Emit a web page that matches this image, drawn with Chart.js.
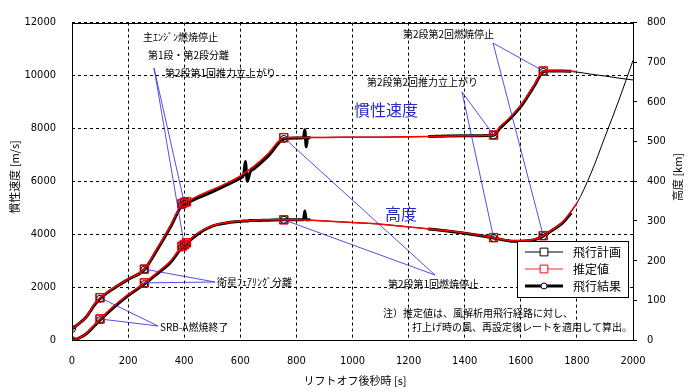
<!DOCTYPE html>
<html>
<head>
<meta charset="utf-8">
<script src="https://cdn.jsdelivr.net/npm/chart.js@4.4.0/dist/chart.umd.min.js"></script>
<style>
  html, body { margin: 0; padding: 0; background: #fff; }
  canvas { display: block; }
</style>
</head>
<body>
<canvas id="chart" width="690" height="392"></canvas>
<script>
/* 飛行計画 / 推定値 / 飛行結果 — velocity & altitude vs time */

// time after liftoff [s], shared by plan and estimate
const timeSec = [0, 25, 50, 80, 100, 125, 150, 200, 258, 300, 350, 392, 400, 408, 450, 500, 550, 600, 650, 700,
  755, 800, 900, 1000, 1100, 1200, 1300, 1400, 1503, 1525, 1550, 1575, 1600, 1625, 1650, 1680, 1700, 1750, 1800,
  1850, 1900, 1950, 2000];

// 飛行計画 (plan)
const planVel = [420, 620, 850, 1370, 1600, 1800, 1980, 2300, 2680, 3400, 4300, 5150, 5200, 5230, 5450, 5680, 5920, 6200, 6580, 7050,
  7650, 7660, 7660, 7670, 7670, 7680, 7700, 7720, 7750, 8050, 8300, 8570, 8880, 9260, 9680, 10170, 10180, 10170, 10130,
  10050, 9980, 9900, 9830];
const planAlt = [0, 5, 16, 38, 53, 70, 86, 114, 144, 168, 198, 236, 240, 245, 270, 288, 296, 300, 302, 303,
  303, 303, 300, 296, 292, 285, 278, 270, 258, 255, 252, 250, 250, 251, 254, 263, 272, 298, 345,
  420, 512, 605, 705];

// 推定値 (estimate), ends at 1800 s
const estVel = [420, 620, 850, 1370, 1600, 1800, 1980, 2300, 2680, 3400, 4300, 5150, 5200, 5230, 5450, 5680, 5920, 6200, 6580, 7050,
  7650, 7660, 7660, 7670, 7670, 7680, 7700, 7720, 7750, 8050, 8300, 8570, 8880, 9260, 9680, 10170, 10180, 10170, 10150];
const estAlt = [0, 5, 16, 38, 53, 70, 86, 114, 144, 168, 198, 236, 240, 245, 270, 288, 296, 300, 302, 303,
  303, 303, 300, 296, 292, 285, 278, 270, 258, 255, 252, 250, 250, 251, 254, 263, 272, 298, 345];

// 飛行結果 (flight result), gap in telemetry between ~850 s and ~1270 s
const resultTime = [0, 25, 50, 80, 100, 125, 150, 200, 258, 300, 350, 392, 400, 408, 450, 500, 550, 600, 612, 618, 625, 635, 650, 700,
  755, 800, 825, 830, 835, 840, 850, 1000, 1270, 1300, 1400, 1503, 1525, 1550, 1575, 1600, 1625, 1650, 1680, 1700, 1750, 1780];
const resultVel = [420, 620, 860, 1320, 1560, 1780, 1960, 2290, 2660, 3350, 4250, 5100, 5150, 5170, 5380, 5600, 5850, 6120, 6250, 6750, 6000, 6350, 6480, 6960,
  7600, 7640, 7650, 7950, 7300, 7650, 7650, null, 7690, 7700, 7720, 7740, 8000, 8250, 8520, 8830, 9220, 9640, 10140, 10170, 10170, 10160];
const resultAlt = [0, 5, 15, 36, 50, 67, 83, 112, 141, 165, 195, 233, 238, 243, 268, 287, 295, 299, 300, 300, 300, 301, 301, 302,
  303, 303, 303, 325, 303, 303, 303, null, 280, 278, 269, 257, 254, 251, 249, 249, 250, 253, 262, 271, 296, 320];

// event times carrying markers
const eventTimes = [100, 258, 392, 400, 408, 755, 1503, 1680];
const resultEventTimes = [0, 100, 258, 392, 400, 408, 755, 1503, 1680];

const xTicks = [0, 200, 400, 600, 800, 1000, 1200, 1400, 1600, 1800, 2000];

const JP = '"Noto Sans CJK JP", sans-serif';
const NUM = '"Liberation Sans Narrow", "DejaVu Sans Condensed", "Roboto", sans-serif';

function pts(xs, ys) {
  return ys.map((y, i) => ({ x: xs[i], y }));
}

function markerRadius(times, r) {
  return ctx => (ctx.raw && times.includes(ctx.raw.x)) ? r : 0;
}

function lineSet(data, axis, color, width, order, style, times, r) {
  return {
    data, yAxisID: axis, order,
    borderColor: color, borderWidth: width,
    pointStyle: style, pointRadius: markerRadius(times, r),
    pointBorderColor: color, pointBackgroundColor: 'rgba(0,0,0,0)', pointBorderWidth: 1,
    pointHoverRadius: 0,
    cubicInterpolationMode: 'monotone', spanGaps: false, fill: false
  };
}

// leaders: from a label point to the estimate value at an event time
function valueAt(arr, t) { return arr[timeSec.indexOf(t)]; }

const annotations = {
  id: 'annotations',
  afterDatasetsDraw(chart) {
    const { ctx, scales: { x, y, y2 } } = chart;
    const leaders = [
      [154, 68, 400], [493, 43, 1680], [462, 92, 1503],
      [435, 275, 755], [215, 282, 258], [158, 326, 100]
    ];
    ctx.save();
    ctx.strokeStyle = 'rgba(50,50,220,0.85)';
    ctx.lineWidth = 1;
    leaders.forEach(([lx, ly, t]) => {
      [[y, valueAt(estVel, t)], [y2, valueAt(estAlt, t)]].forEach(([sc, v]) => {
        ctx.beginPath();
        ctx.moveTo(lx, ly);
        ctx.lineTo(x.getPixelForValue(t), sc.getPixelForValue(v));
        ctx.stroke();
      });
    });

    ctx.fillStyle = '#000';
    ctx.font = '10px ' + JP;
    ctx.textBaseline = 'middle';
    ctx.textAlign = 'left';
    [
      ['主ｴﾝｼﾞﾝ燃焼停止', 143, 37],
      ['第1段・第2段分離', 148, 55],
      ['第2段第1回推力立上がり', 165, 73],
      ['第2段第2回燃焼停止', 403, 34],
      ['第2段第2回推力立上がり', 367, 82],
      ['第2段第1回燃焼停止', 388, 284],
      ['衛星ﾌｪｱﾘﾝｸﾞ分離', 217, 282],
      ['SRB-A燃焼終了', 160, 327],
      ['注）推定値は、風解析用飛行経路に対し、', 383, 313],
      ['打上げ時の風、再設定後レートを適用して算出。', 412, 327]
    ].forEach(([s, tx, ty]) => ctx.fillText(s, tx, ty));

    ctx.fillStyle = '#2a2ac8';
    ctx.font = '16px ' + JP;
    ctx.textAlign = 'center';
    ctx.fillText('慣性速度', 386, 110);
    ctx.fillText('高度', 401, 214);

    // plot frame
    const a = chart.chartArea;
    ctx.strokeStyle = '#000';
    ctx.strokeRect(Math.round(a.left) + 0.5, Math.round(a.top) + 0.5,
      Math.round(a.right - a.left), Math.round(a.bottom - a.top));

    // legend
    ctx.fillStyle = '#fff';
    ctx.fillRect(517.5, 241.5, 111, 56);
    ctx.strokeRect(517.5, 241.5, 111, 56);
    const rows = [
      ['飛行計画', '#000', 1, 'rect', '#000', 252],
      ['推定値', '#ff7070', 1.5, 'rect', '#f00', 269],
      ['飛行結果', '#000', 3, 'circle', '#000', 286]
    ];
    rows.forEach(([label, col, w, style, mcol, ry]) => {
      ctx.strokeStyle = col;
      ctx.lineWidth = w;
      ctx.beginPath();
      ctx.moveTo(525, ry);
      ctx.lineTo(563, ry);
      ctx.stroke();
      ctx.fillStyle = '#fff';
      ctx.strokeStyle = mcol;
      ctx.lineWidth = 1;
      Chart.helpers.drawPoint(ctx, { pointStyle: style, radius: style === 'rect' ? 5.5 : 3, borderWidth: 1 }, 544, ry);
      ctx.fillStyle = '#000';
      ctx.font = '12px ' + JP;
      ctx.textAlign = 'left';
      ctx.fillText(label, 573, ry);
    });

    // axis titles
    ctx.fillStyle = '#000';
    ctx.font = '11px ' + JP;
    ctx.textAlign = 'center';
    ctx.fillText('リフトオフ後秒時 [s]', 355, 381);
    [['慣性速度 [m/s]', 15], ['高度 [km]', 678]].forEach(([s, tx]) => {
      ctx.save();
      ctx.translate(tx, 177);
      ctx.rotate(-Math.PI / 2);
      ctx.fillText(s, 0, 0);
      ctx.restore();
    });
    ctx.restore();
  }
};

const plainTick = v => String(v);

new Chart(document.getElementById('chart'), {
  type: 'line',
  data: {
    datasets: [
      lineSet(pts(timeSec, estVel), 'y', '#ff0000', 1.5, 0, 'rect', eventTimes, 6),
      lineSet(pts(timeSec, estAlt), 'y2', '#ff0000', 1.5, 0, 'rect', eventTimes, 6),
      lineSet(pts(timeSec, planVel), 'y', '#000', 1, 1, 'rect', eventTimes, 5.5),
      lineSet(pts(timeSec, planAlt), 'y2', '#000', 1, 1, 'rect', eventTimes, 5.5),
      lineSet(pts(resultTime, resultVel), 'y', '#000', 3, 2, 'circle', resultEventTimes, 3.5),
      lineSet(pts(resultTime, resultAlt), 'y2', '#000', 3, 2, 'circle', resultEventTimes, 3.5)
    ]
  },
  options: {
    responsive: false,
    animation: false,
    events: [],
    layout: { padding: { top: 13 } },
    plugins: { legend: { display: false }, tooltip: { enabled: false } },
    scales: {
      x: {
        type: 'linear', min: 0, max: 2000,
        afterBuildTicks: s => { s.ticks = xTicks.map(v => ({ value: v })); },
        afterFit: s => { s.height = 52; },
        grid: { color: '#000', drawTicks: false },
        border: { display: false, dash: [3, 3] },
        ticks: { color: '#000', padding: 15, maxRotation: 0, callback: plainTick, font: { family: NUM, size: 11 } }
      },
      y: {
        position: 'left', min: 0, max: 12000,
        afterFit: s => { s.width = 72; },
        grid: { color: '#000', drawTicks: false },
        border: { display: false, dash: [3, 3] },
        ticks: { stepSize: 2000, color: '#000', padding: 16, callback: plainTick, font: { family: NUM, size: 11 } }
      },
      y2: {
        position: 'right', min: 0, max: 800,
        afterFit: s => { s.width = 57; },
        grid: { drawOnChartArea: false, color: '#000', tickLength: 4 },
        border: { display: false },
        ticks: { stepSize: 100, color: '#000', padding: 10, callback: plainTick, font: { family: NUM, size: 11 } }
      }
    }
  },
  plugins: [annotations]
});
</script>
</body>
</html>
